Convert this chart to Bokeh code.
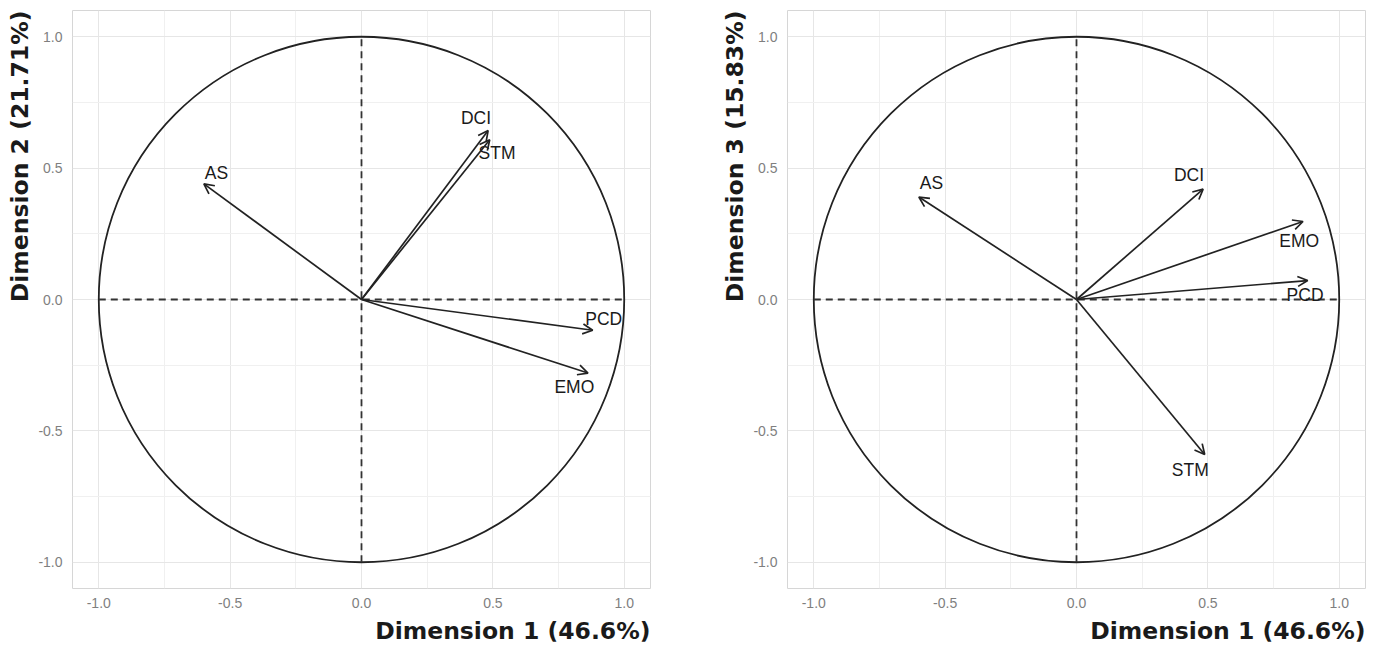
from bokeh.plotting import figure
from bokeh.models import ColumnDataSource, Arrow, OpenHead, FixedTicker, Title, Range1d
from bokeh.layouts import row
from bokeh.embed import file_html
from bokeh.resources import INLINE
from bokeh.core.properties import value

# ---- data (variable coordinates on the principal dimensions) ----
variables = ["AS", "DCI", "STM", "PCD", "EMO"]
dim1 = [-0.600, 0.482, 0.488, 0.880, 0.862]
dim2 = [0.440, 0.643, 0.608, -0.117, -0.280]
dim3 = [0.390, 0.420, -0.590, 0.072, 0.297]

# label positions (repelled text positions, in data units)
lab12_x = [-0.552, 0.436, 0.516, 0.922, 0.810]
lab12_y = [0.482, 0.691, 0.558, -0.076, -0.332]
lab13_x = [-0.552, 0.428, 0.433, 0.870, 0.848]
lab13_y = [0.444, 0.472, -0.649, 0.018, 0.221]

tick_vals = [-1.0, -0.5, 0.0, 0.5, 1.0]
tick_labels = ["-1.0", "-0.5", "0.0", "0.5", "1.0"]
minor_vals = [-0.75, -0.25, 0.25, 0.75]
ref_lo = [-1.0]
ref_hi = [1.0]
origin = [0.0]
unit_radius = 1.0

x_title = "Dimension 1 (46.6%)"
y_title_2 = "Dimension 2 (21.71%)"
y_title_3 = "Dimension 3 (15.83%)"

INK = "#222222"
TITLE_FONT = "DejaVu Sans"
LABEL_FONT = "Liberation Sans"


def make_panel(yvals, lx, ly, ytitle, width, bl, br):
    p = figure(width=width, height=648, output_backend="svg", toolbar_location=None,
               x_range=Range1d(-1.1, 1.1), y_range=Range1d(-1.1, 1.1),
               min_border_left=bl, min_border_right=br, min_border_top=10,
               min_border_bottom=58)
    p.background_fill_color = "white"
    p.border_fill_color = "white"
    p.outline_line_color = "#d6d6d6"
    p.outline_line_width = 1

    ticker = FixedTicker(ticks=tick_vals, minor_ticks=minor_vals)
    overrides = {v: s for v, s in zip(tick_vals, tick_labels)}
    for ax in (p.xaxis[0], p.yaxis[0]):
        ax.ticker = ticker
        ax.major_label_overrides = overrides
        ax.axis_line_color = None
        ax.major_tick_line_color = None
        ax.minor_tick_line_color = None
        ax.major_tick_out = 0
        ax.major_tick_in = 0
        ax.major_label_text_font = LABEL_FONT
        ax.major_label_text_font_size = "14px"
        ax.major_label_text_color = "#7f7f7f"
    p.xaxis[0].major_label_standoff = 5
    p.yaxis[0].major_label_standoff = 6

    for g in (p.xgrid[0], p.ygrid[0]):
        g.ticker = ticker
        g.grid_line_color = "#e6e6e6"
        g.grid_line_width = 1
        g.minor_grid_line_color = "#f0f0f0"
        g.minor_grid_line_width = 1

    # unit circle
    p.circle(x=origin, y=origin, radius=unit_radius, fill_color=None,
             line_color=INK, line_width=1.8)
    # dashed reference axes
    p.segment(x0=ref_lo, y0=origin, x1=ref_hi, y1=origin, line_color="#333333",
              line_width=1.8, line_dash="7 5")
    p.segment(x0=origin, y0=ref_lo, x1=origin, y1=ref_hi, line_color="#333333",
              line_width=1.8, line_dash="7 5")

    src = ColumnDataSource(dict(x=dim1, y=yvals, lx=lx, ly=ly, name=variables))
    p.add_layout(Arrow(end=OpenHead(size=10, line_width=1.7, line_color=INK),
                       x_start=0, y_start=0, x_end="x", y_end="y", source=src,
                       line_width=1.7, line_color=INK))
    p.text(x="lx", y="ly", text="name", source=src, text_font=value(LABEL_FONT),
           text_font_size="17.5px", text_color="#1a1a1a", text_align="center",
           text_baseline="middle")

    p.add_layout(Title(text=x_title, align="right", text_font=TITLE_FONT,
                       text_font_style="bold", text_font_size="23.5px",
                       text_color="#1a1a1a", standoff=8), "below")
    p.add_layout(Title(text=ytitle, align="right", text_font=TITLE_FONT,
                       text_font_style="bold", text_font_size="23.5px",
                       text_color="#1a1a1a", standoff=4), "left")
    return p


p1 = make_panel(dim2, lab12_x, lab12_y, y_title_2, 694, 72, 44)
p2 = make_panel(dim3, lab13_x, lab13_y, y_title_3, 694, 93, 23)

layout = row(p1, p2)
open("out.html", "w").write(file_html(layout, INLINE))
